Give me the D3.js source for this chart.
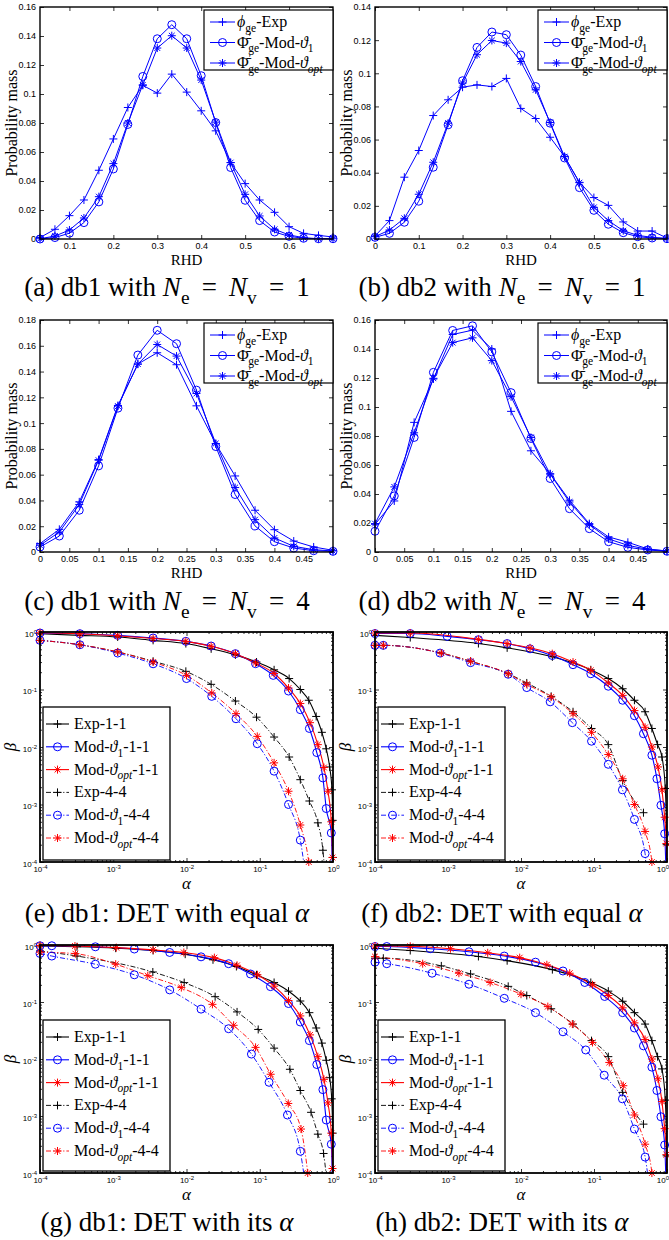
<!DOCTYPE html>
<html>
<head>
<meta charset="utf-8">
<script src="https://cdn.jsdelivr.net/npm/d3@7/dist/d3.min.js"></script>
<style>
  body { margin: 0; background: #fff; }
  svg { display: block; }
</style>
</head>
<body>
<svg id="fig" width="669" height="1240"></svg>
<script>
// ---------- RHD histograms (probability mass) ----------
const rhdA = [0.033, 0.067, 0.1, 0.133, 0.167, 0.2, 0.233, 0.267, 0.3, 0.333, 0.367, 0.4, 0.433, 0.467, 0.5, 0.533, 0.567, 0.6, 0.633, 0.667, 0.7];
const aExp = [0.001, 0.0067, 0.0161, 0.0269, 0.0474, 0.069, 0.0907, 0.106, 0.1006, 0.1137, 0.1013, 0.0884, 0.0746, 0.0527, 0.0382, 0.0269, 0.0184, 0.0085, 0.0039, 0.0025, 0.0014];
const aMod1 = [0, 0.001, 0.004, 0.0113, 0.0256, 0.0483, 0.079, 0.1121, 0.1381, 0.1478, 0.1381, 0.1126, 0.0803, 0.0493, 0.0267, 0.0127, 0.0048, 0.0018, 0.0005, 0.0002, 0.0002];
const aOpt = [0.0002, 0.002, 0.0062, 0.0145, 0.0292, 0.052, 0.08, 0.1063, 0.1317, 0.1402, 0.1317, 0.1096, 0.0806, 0.0527, 0.0308, 0.0159, 0.0067, 0.0028, 0.0009, 0.0002, 0.0002];

const rhdB = [0, 0.033, 0.067, 0.1, 0.133, 0.167, 0.2, 0.233, 0.267, 0.3, 0.333, 0.367, 0.4, 0.433, 0.467, 0.5, 0.533, 0.567, 0.6, 0.633, 0.667];
const bExp = [0.0018, 0.0111, 0.0373, 0.0534, 0.0745, 0.084, 0.0916, 0.093, 0.092, 0.0969, 0.0788, 0.0727, 0.0614, 0.0497, 0.0342, 0.025, 0.0203, 0.0103, 0.0048, 0.0048, 0.0006];
const bMod1 = [0.001, 0.0034, 0.0101, 0.0228, 0.0433, 0.0689, 0.0955, 0.1156, 0.1249, 0.1233, 0.111, 0.092, 0.0699, 0.0489, 0.031, 0.0173, 0.0089, 0.0038, 0.0014, 0.0006, 0.0002];
const bOpt = [0.0014, 0.0054, 0.0125, 0.027, 0.0463, 0.0699, 0.0941, 0.1112, 0.1198, 0.1182, 0.1071, 0.09, 0.0703, 0.0497, 0.034, 0.0191, 0.0111, 0.005, 0.0022, 0.001, 0.0004];

const rhdC = [0, 0.033, 0.067, 0.1, 0.133, 0.167, 0.2, 0.233, 0.267, 0.3, 0.333, 0.367, 0.4, 0.433, 0.467, 0.5];
const cExp = [0.0065, 0.0176, 0.0389, 0.0717, 0.1137, 0.1458, 0.1546, 0.1453, 0.1134, 0.0839, 0.059, 0.0324, 0.0173, 0.0085, 0.0039, 0.0013];
const cMod1 = [0.0039, 0.0124, 0.0324, 0.0668, 0.1116, 0.1528, 0.172, 0.1616, 0.1256, 0.0818, 0.0446, 0.0202, 0.008, 0.0031, 0.001, 0.0005];
const cOpt = [0.0052, 0.0155, 0.0368, 0.0712, 0.1132, 0.1458, 0.161, 0.152, 0.123, 0.0842, 0.05, 0.0251, 0.0109, 0.0044, 0.0018, 0.0008];

const dExp = [0.0191, 0.0352, 0.0894, 0.1193, 0.150, 0.153, 0.140, 0.097, 0.0698, 0.054, 0.0357, 0.0196, 0.0104, 0.0067, 0.0021, 0.0007];
const dMod1 = [0.0143, 0.0387, 0.079, 0.1239, 0.1528, 0.156, 0.138, 0.1099, 0.0783, 0.0507, 0.0299, 0.0161, 0.0071, 0.0032, 0.0014, 0.0005];
const dOpt = [0.0196, 0.0449, 0.0822, 0.1198, 0.1444, 0.1477, 0.132, 0.1071, 0.079, 0.0537, 0.0345, 0.0189, 0.009, 0.0046, 0.0018, 0.0007];

const ticksA = [0.1, 0.2, 0.3, 0.4, 0.5, 0.6];
const ticksB = [0, 0.1, 0.2, 0.3, 0.4, 0.5, 0.6];
const ticksC = [0, 0.05, 0.1, 0.15, 0.2, 0.25, 0.3, 0.35, 0.4, 0.45];

// ---------- DET curves [alpha, beta] ----------
const eExp11 = [[1e-4,0.93],[3.5e-4,0.875],[1.15e-3,0.82],[3.5e-3,0.716],[9.8e-3,0.63],[0.0217,0.51],[0.0465,0.40],[0.0904,0.30],[0.157,0.22],[0.252,0.155],[0.358,0.10],[0.467,0.065],[0.589,0.034],[0.705,0.018],[0.809,0.0093],[0.9,0.0045],[0.968,0.0018],[0.99,5.3e-4],[0.995,1.2e-4],[0.998,3e-5]];
const eMod11 = [[1e-4,0.96],[3.5e-4,0.935],[1.15e-3,0.875],[3.5e-3,0.786],[9.8e-3,0.688],[0.0217,0.57],[0.0465,0.42],[0.0877,0.281],[0.153,0.176],[0.247,0.094],[0.358,0.0446],[0.476,0.021],[0.601,0.008],[0.728,0.0029],[0.809,8.5e-4],[0.948,3.2e-4],[0.99,3e-5]];
const eOpt11 = [[1e-4,0.97],[3.5e-4,0.93],[1.15e-3,0.86],[3.5e-3,0.77],[9.8e-3,0.688],[0.0217,0.565],[0.0465,0.42],[0.0877,0.29],[0.157,0.19],[0.247,0.106],[0.358,0.057],[0.486,0.0265],[0.621,0.011],[0.752,0.0044],[0.853,0.0017],[0.948,5e-4],[0.985,1.2e-4],[0.995,3e-5]];
const eExp44 = [[1e-4,0.716],[3.5e-4,0.60],[1.15e-3,0.45],[3.5e-3,0.31],[9.8e-3,0.207],[0.0217,0.123],[0.0465,0.063],[0.0904,0.033],[0.157,0.0149],[0.252,0.0067],[0.358,0.0027],[0.476,0.00115],[0.621,4.8e-4],[0.728,1.6e-4],[0.81,3e-5]];
const eMod44 = [[1e-4,0.716],[3.5e-4,0.60],[1.15e-3,0.43],[3.5e-3,0.28],[0.01,0.155],[0.0221,0.076],[0.0474,0.031],[0.0925,0.0114],[0.157,0.0038],[0.247,0.001],[0.358,2.4e-4],[0.45,3e-5]];
const eOpt44 = [[1e-4,0.716],[3.5e-4,0.60],[1.15e-3,0.45],[3.5e-3,0.30],[0.01,0.176],[0.0221,0.087],[0.0474,0.038],[0.0925,0.0153],[0.157,0.0053],[0.247,0.0017],[0.358,4.4e-4],[0.467,1e-4],[0.52,3e-5]];

const fExp11 = [[1e-4,0.875],[3.04e-4,0.80],[2.61e-3,0.63],[6.46e-3,0.53],[0.0269,0.37],[0.0904,0.22],[0.157,0.155],[0.247,0.103],[0.358,0.065],[0.501,0.041],[0.621,0.021],[0.743,0.011],[0.853,0.0067],[0.948,0.0019],[0.99,2e-4],[0.998,3e-5]];
const fMod11 = [[1e-4,0.94],[3.04e-4,0.94],[9.75e-4,0.84],[2.61e-3,0.735],[6.46e-3,0.63],[0.0133,0.51],[0.0268,0.39],[0.0516,0.27],[0.0904,0.188],[0.157,0.114],[0.247,0.065],[0.358,0.035],[0.476,0.017],[0.621,0.0072],[0.728,0.0028],[0.826,9.7e-4],[0.929,3.1e-4],[0.985,3e-5]];
const fOpt11 = [[1e-4,0.96],[3.04e-4,0.96],[2.61e-3,0.745],[6.46e-3,0.63],[0.0133,0.53],[0.0268,0.42],[0.0516,0.30],[0.0904,0.215],[0.157,0.13],[0.247,0.079],[0.358,0.043],[0.501,0.022],[0.621,0.01],[0.752,0.0045],[0.853,0.0018],[0.929,6e-4],[0.98,2.1e-4],[0.998,3e-5]];
const fExp44 = [[1e-4,0.586],[1.3e-4,0.586],[8.1e-4,0.43],[2.04e-3,0.31],[6.68e-3,0.188],[0.012,0.13],[0.0259,0.076],[0.0516,0.041],[0.0925,0.021],[0.157,0.011],[0.247,0.0026],[0.476,7.2e-4]];
const fMod44 = [[1e-4,0.586],[1.3e-4,0.586],[7.8e-4,0.43],[2.04e-3,0.293],[6.68e-3,0.184],[0.012,0.108],[0.0251,0.061],[0.0505,0.0265],[0.0925,0.0126],[0.157,0.005],[0.245,0.0018],[0.358,5.5e-4],[0.501,1.4e-4],[0.56,3e-5]];
const fOpt44 = [[1e-4,0.586],[1.3e-4,0.586],[8.1e-4,0.43],[2.04e-3,0.31],[6.68e-3,0.188],[0.012,0.123],[0.0259,0.074],[0.0516,0.038],[0.0925,0.018],[0.157,0.0074],[0.247,0.0028],[0.358,0.001],[0.501,3.4e-4],[0.621,1e-4],[0.68,3e-5]];

const gExp11 = [[1e-4,0.96],[3.2e-4,0.93],[1.08e-3,0.88],[3.5e-3,0.80],[9.6e-3,0.69],[0.023,0.55],[0.048,0.42],[0.0904,0.30],[0.157,0.22],[0.247,0.155],[0.358,0.104],[0.476,0.065],[0.59,0.035],[0.705,0.019],[0.809,0.0095],[0.9,0.0047],[0.96,0.002],[0.99,5e-4],[0.998,3e-5]];
const gMod11 = [[1e-4,0.97],[1.45e-4,0.97],[5.7e-4,0.93],[1.94e-3,0.85],[5.9e-3,0.74],[0.0158,0.62],[0.0376,0.47],[0.0748,0.31],[0.14,0.186],[0.247,0.094],[0.358,0.0446],[0.476,0.021],[0.601,0.008],[0.728,0.0029],[0.809,8.5e-4],[0.948,3.2e-4],[0.99,3e-5]];
const gOpt11 = [[1e-4,0.98],[3e-4,0.96],[1.1e-3,0.9],[3.5e-3,0.82],[9.2e-3,0.74],[0.024,0.6],[0.049,0.44],[0.093,0.30],[0.157,0.19],[0.247,0.106],[0.358,0.057],[0.486,0.0265],[0.621,0.011],[0.752,0.0044],[0.853,0.0017],[0.948,5e-4],[0.985,1.2e-4],[0.995,3e-5]];
const gExp44 = [[1e-4,0.785],[3.2e-4,0.64],[3.47e-3,0.336],[9.3e-3,0.219],[0.0246,0.124],[0.049,0.067],[0.0953,0.033],[0.157,0.0155],[0.258,0.0066],[0.358,0.0028],[0.502,0.00116],[0.621,4.8e-4],[0.743,2.2e-4],[0.88,3e-5]];
const gMod44 = [[1e-4,0.71],[1.45e-4,0.64],[5.7e-4,0.46],[1.94e-3,0.30],[5.9e-3,0.163],[0.0158,0.075],[0.0376,0.034],[0.077,0.0122],[0.134,0.0039],[0.239,0.00104],[0.358,2.4e-4],[0.45,3e-5]];
const gOpt44 = [[1e-4,0.75],[3.04e-4,0.705],[1.08e-3,0.46],[2.96e-3,0.29],[8.5e-3,0.179],[0.0226,0.091],[0.044,0.039],[0.0877,0.016],[0.141,0.0054],[0.245,0.00166],[0.366,5.9e-4],[0.452,1e-4],[0.5,3e-5]];

const hExp11 = [[1e-4,0.875],[3.04e-4,0.80],[2.61e-3,0.63],[6.46e-3,0.53],[0.0269,0.37],[0.0904,0.22],[0.157,0.155],[0.247,0.103],[0.358,0.065],[0.501,0.041],[0.621,0.021],[0.743,0.011],[0.853,0.0067],[0.948,0.0019],[0.99,2e-4],[0.998,3e-5]];
const hMod11 = [[1e-4,0.94],[1.45e-4,0.94],[5.7e-4,0.86],[1.94e-3,0.76],[5.9e-3,0.64],[0.0158,0.50],[0.0376,0.35],[0.0748,0.22],[0.14,0.125],[0.247,0.065],[0.358,0.035],[0.476,0.017],[0.621,0.0072],[0.728,0.0028],[0.826,9.7e-4],[0.929,3.1e-4],[0.985,3e-5]];
const hOpt11 = [[1e-4,0.96],[3.04e-4,0.95],[1.08e-3,0.86],[3.5e-3,0.73],[9.6e-3,0.60],[0.0226,0.45],[0.0465,0.32],[0.0955,0.20],[0.157,0.13],[0.247,0.079],[0.358,0.043],[0.501,0.022],[0.621,0.01],[0.752,0.0045],[0.853,0.0018],[0.929,6e-4],[0.98,2.1e-4],[0.998,3e-5]];
const hExp44 = [[1e-4,0.586],[1.3e-4,0.586],[8.1e-4,0.43],[2.04e-3,0.31],[6.68e-3,0.188],[0.012,0.13],[0.0259,0.076],[0.0516,0.041],[0.0925,0.021],[0.157,0.011],[0.247,0.0026],[0.476,7.2e-4]];
const hMod44 = [[1e-4,0.50],[1.45e-4,0.47],[6.05e-4,0.32],[1.94e-3,0.205],[5.9e-3,0.116],[0.0158,0.065],[0.0376,0.030],[0.077,0.0144],[0.138,0.0052],[0.245,0.002],[0.358,5.9e-4],[0.502,1.9e-4],[0.6,3e-5]];
const hOpt44 = [[1e-4,0.625],[4.5e-4,0.47],[1.41e-3,0.32],[3.78e-3,0.22],[0.01,0.137],[0.0233,0.083],[0.0505,0.041],[0.0955,0.0195],[0.162,0.0087],[0.252,0.0034],[0.358,0.00104],[0.502,3.2e-4],[0.621,1e-4],[0.68,3e-5]];

const logTicks = [1e-4, 1e-3, 1e-2, 1e-1, 1];

// ---------- layout ----------
const serif = '"Liberation Serif","Times New Roman",serif';
const sans = '"Liberation Sans",Arial,sans-serif';
const BLUE = "#0000ff", RED = "#ff0000", BLACK = "#000";
const colX = [[40, 333], [375, 667]];
const rowY = [[7, 239], [320, 552], [632, 862], [945, 1173]];
const colMid = [167, 502];
const pageW = 669;

const svg = d3.select("#fig");

// text made of pieces: italic, subscript, superscript
function rich(text, parts, size) {
  let off = 0;
  parts.forEach(p => {
    if (typeof p === "string") p = { t: p };
    const target = p.sub ? size * 0.3 : p.sup ? -size * 0.38 : 0;
    const ts = text.append("tspan").text(p.t).attr("dy", target - off);
    off = target;
    if (p.sub || p.sup) ts.attr("font-size", size * 0.72);
    if (p.it) ts.attr("font-style", "italic");
    if (p.dx) ts.attr("dx", p.dx);
  });
}

function mark(g, type, cx, cy, color, s) {
  if (type === "o") {
    g.append("circle").attr("cx", cx).attr("cy", cy).attr("r", s)
      .attr("fill", "none").attr("stroke", color).attr("stroke-width", 1);
    return;
  }
  let p = `M${cx - s},${cy}H${cx + s}M${cx},${cy - s}V${cy + s}`;
  if (type === "*") {
    const k = s * 0.72;
    p += `M${cx - k},${cy - k}L${cx + k},${cy + k}M${cx - k},${cy + k}L${cx + k},${cy - k}`;
  }
  g.append("path").attr("d", p).attr("stroke", color).attr("fill", "none").attr("stroke-width", 1);
}

function styleAxis(a, size) {
  a.select(".domain").remove();
  a.selectAll(".tick line").attr("stroke", BLACK).attr("stroke-width", 0.8);
  a.selectAll(".tick text").attr("font-family", sans).attr("font-size", size).attr("fill", BLACK);
}

function caption(ci, y, parts) {
  const t = svg.append("text").attr("x", colMid[ci]).attr("y", y)
    .attr("text-anchor", "middle").attr("font-family", serif).attr("font-size", 27);
  rich(t, parts, 27);
}

// ---------- probability mass panels ----------
const probLegend = [
  [{ t: "\u03D5", it: 1 }, { t: "ge", sub: 1 }, "-Exp"],
  ["\u03A6\u0304", { t: "\u2032", sup: 1 }, { t: "ge", sub: 1, dx: -3 }, "-Mod-", { t: "\u03D1", it: 1 }, { t: "1", sub: 1 }],
  ["\u03A6\u0304", { t: "\u2032", sup: 1 }, { t: "ge", sub: 1, dx: -3 }, "-Mod-", { t: "\u03D1", it: 1 }, { t: "opt", sub: 1, it: 1 }]
];
const probMarks = ["+", "o", "*"];

function probPanel(ci, ri, xs, series, xDom, xTicks, yMax) {
  const [x0, x1] = colX[ci], [y0, y1] = rowY[ri];
  const x = d3.scaleLinear().domain(xDom).range([x0, x1]);
  const y = d3.scaleLinear().domain([0, yMax]).range([y1, y0]);
  const yTicks = d3.range(0, yMax + 1e-9, 0.02);
  const fmt = d => String(+d.toFixed(3));
  const g = svg.append("g");

  styleAxis(g.append("g").attr("transform", `translate(0,${y1})`)
    .call(d3.axisBottom(x).tickValues(xTicks).tickFormat(fmt).tickSize(-4).tickSizeOuter(0).tickPadding(4)), 9);
  styleAxis(g.append("g").attr("transform", `translate(0,${y0})`)
    .call(d3.axisTop(x).tickValues(xTicks).tickFormat("").tickSize(-4).tickSizeOuter(0)), 9);
  styleAxis(g.append("g").attr("transform", `translate(${x0},0)`)
    .call(d3.axisLeft(y).tickValues(yTicks).tickFormat(fmt).tickSize(-4).tickSizeOuter(0).tickPadding(4)), 9);
  styleAxis(g.append("g").attr("transform", `translate(${x1},0)`)
    .call(d3.axisRight(y).tickValues(yTicks).tickFormat("").tickSize(-4).tickSizeOuter(0)), 9);

  const line = d3.line().x((d, i) => x(xs[i])).y(d => y(d));
  series.forEach((vals, k) => {
    g.append("path").attr("d", line(vals)).attr("fill", "none").attr("stroke", BLUE).attr("stroke-width", 1);
    vals.forEach((v, i) => mark(g, probMarks[k], x(xs[i]), y(v), BLUE, 4));
  });

  g.append("rect").attr("x", x0).attr("y", y0).attr("width", x1 - x0).attr("height", y1 - y0)
    .attr("fill", "none").attr("stroke", BLACK).attr("stroke-width", 1.4);

  // legend
  const lx = x1 - 129, ly = y0 + 3;
  g.append("rect").attr("x", lx).attr("y", ly).attr("width", 129).attr("height", 60)
    .attr("fill", "#fff").attr("stroke", BLACK).attr("stroke-width", 1.2);
  probLegend.forEach((parts, k) => {
    const cy = ly + 12 + k * 20.5;
    g.append("line").attr("x1", lx + 6).attr("x2", lx + 31).attr("y1", cy).attr("y2", cy)
      .attr("stroke", BLUE).attr("stroke-width", 1);
    mark(g, probMarks[k], lx + 18.5, cy, BLUE, 4);
    const t = g.append("text").attr("x", lx + 33).attr("y", cy + 5)
      .attr("font-family", serif).attr("font-size", 16);
    rich(t, parts, 16);
  });

  g.append("text").attr("transform", `translate(${x0 - 23},${(y0 + y1) / 2}) rotate(-90)`)
    .attr("text-anchor", "middle").attr("font-family", serif).attr("font-size", 16).text("Probability mass");
  g.append("text").attr("x", (x0 + x1) / 2).attr("y", y1 + 26)
    .attr("text-anchor", "middle").attr("font-family", serif).attr("font-size", 15).text("RHD");
}

probPanel(0, 0, rhdA, [aExp, aMod1, aOpt], [0.033, 0.7], ticksA, 0.16);
probPanel(1, 0, rhdB, [bExp, bMod1, bOpt], [0, 0.667], ticksB, 0.14);
probPanel(0, 1, rhdC, [cExp, cMod1, cOpt], [0, 0.5], ticksC, 0.18);
probPanel(1, 1, rhdC, [dExp, dMod1, dOpt], [0, 0.5], ticksC, 0.16);

// ---------- DET panels ----------
const detStyle = [
  { c: BLACK, m: "+", dash: null, w: 1.1, label: ["Exp-1-1"] },
  { c: BLUE, m: "o", dash: null, w: 1.1, label: ["Mod-", { t: "\u03D1", it: 1 }, { t: "1", sub: 1 }, "-1-1"] },
  { c: RED, m: "*", dash: null, w: 1.1, label: ["Mod-", { t: "\u03D1", it: 1 }, { t: "opt", sub: 1, it: 1 }, "-1-1"] },
  { c: BLACK, m: "+", dash: "5,2,1.2,2", w: 0.9, label: ["Exp-4-4"] },
  { c: BLUE, m: "o", dash: "5,2,1.2,2", w: 0.9, label: ["Mod-", { t: "\u03D1", it: 1 }, { t: "1", sub: 1 }, "-4-4"] },
  { c: RED, m: "*", dash: "5,2,1.2,2", w: 0.9, label: ["Mod-", { t: "\u03D1", it: 1 }, { t: "opt", sub: 1, it: 1 }, "-4-4"] }
];

function detPanel(ci, ri, curves, id) {
  const [x0, x1] = colX[ci], [y0, y1] = rowY[ri];
  const x = d3.scaleLog().domain([1e-4, 1]).range([x0, x1]);
  const y = d3.scaleLog().domain([1e-4, 1]).range([y1, y0]);
  const minors = [];
  for (let e = -4; e < 0; e++) for (let m = 2; m < 10; m++) minors.push(m * Math.pow(10, e));
  const g = svg.append("g");
  const supLabels = a => a.selectAll(".tick text").each(function (d) {
    const t = d3.select(this).text("10");
    t.append("tspan").attr("dy", "-0.45em").attr("font-size", 6).text(Math.round(Math.log10(d)));
  });

  const axB = g.append("g").attr("transform", `translate(0,${y1})`)
    .call(d3.axisBottom(x).tickValues(logTicks).tickSize(-4).tickSizeOuter(0).tickPadding(4));
  styleAxis(axB, 8); supLabels(axB);
  // keep the last label inside the page
  if (x1 + 7 > pageW) {
    axB.selectAll(".tick text").filter(d => d === 1)
      .attr("text-anchor", "end").attr("x", pageW - x1 - 0.5);
  }
  const axL = g.append("g").attr("transform", `translate(${x0},0)`)
    .call(d3.axisLeft(y).tickValues(logTicks).tickSize(-4).tickSizeOuter(0).tickPadding(3));
  styleAxis(axL, 8); supLabels(axL);
  axL.selectAll(".tick text").attr("dy", "0.55em");
  styleAxis(g.append("g").attr("transform", `translate(0,${y0})`)
    .call(d3.axisTop(x).tickValues(logTicks).tickFormat("").tickSize(-4).tickSizeOuter(0)), 8);
  styleAxis(g.append("g").attr("transform", `translate(${x1},0)`)
    .call(d3.axisRight(y).tickValues(logTicks).tickFormat("").tickSize(-4).tickSizeOuter(0)), 8);
  [[d3.axisBottom(x), y1], [d3.axisTop(x), y0]].forEach(([ax, ty]) =>
    styleAxis(g.append("g").attr("transform", `translate(0,${ty})`)
      .call(ax.tickValues(minors).tickFormat("").tickSize(-2).tickSizeOuter(0)), 8));
  [[d3.axisLeft(y), x0], [d3.axisRight(y), x1]].forEach(([ax, tx]) =>
    styleAxis(g.append("g").attr("transform", `translate(${tx},0)`)
      .call(ax.tickValues(minors).tickFormat("").tickSize(-2).tickSizeOuter(0)), 8));

  svg.append("clipPath").attr("id", id).append("rect")
    .attr("x", x0).attr("y", y0).attr("width", x1 - x0).attr("height", y1 - y0);
  const plot = g.append("g").attr("clip-path", `url(#${id})`);
  const line = d3.line().x(d => x(d[0])).y(d => y(d[1])).curve(d3.curveMonotoneX);
  curves.forEach((pts, k) => {
    const st = detStyle[k];
    plot.append("path").attr("d", line(pts)).attr("fill", "none").attr("stroke", st.c)
      .attr("stroke-width", st.w).attr("stroke-dasharray", st.dash);
  });
  curves.forEach((pts, k) => {
    const st = detStyle[k];
    pts.filter(d => d[1] >= 0.99e-4).forEach(d => mark(g, st.m, x(d[0]), y(d[1]), st.c, 4));
  });

  g.append("rect").attr("x", x0).attr("y", y0).attr("width", x1 - x0).attr("height", y1 - y0)
    .attr("fill", "none").attr("stroke", BLACK).attr("stroke-width", 1.8);

  // legend
  const lx = x0 + 3, ly = y0 + 75, lh = y1 - 2 - ly;
  g.append("rect").attr("x", lx).attr("y", ly).attr("width", 127).attr("height", lh)
    .attr("fill", "#fff").attr("stroke", BLACK).attr("stroke-width", 1.3);
  detStyle.forEach((st, k) => {
    const cy = ly + 17 + k * 22.8;
    g.append("line").attr("x1", lx + 3).attr("x2", lx + 26).attr("y1", cy).attr("y2", cy)
      .attr("stroke", st.c).attr("stroke-width", st.w).attr("stroke-dasharray", st.dash);
    mark(g, st.m, lx + 14.5, cy, st.c, 4);
    const t = g.append("text").attr("x", lx + 31).attr("y", cy + 5)
      .attr("font-family", serif).attr("font-size", 16);
    rich(t, st.label, 16);
  });

  g.append("text").attr("transform", `translate(${x0 - 24},${(y0 + y1) / 2}) rotate(-90)`)
    .attr("text-anchor", "middle").attr("font-family", serif).attr("font-style", "italic")
    .attr("font-size", 17).text("\u03B2");
  g.append("text").attr("x", (x0 + x1) / 2).attr("y", y1 + 27)
    .attr("text-anchor", "middle").attr("font-family", serif).attr("font-style", "italic")
    .attr("font-size", 17).text("\u03B1");
}

detPanel(0, 2, [eExp11, eMod11, eOpt11, eExp44, eMod44, eOpt44], "clipE");
detPanel(1, 2, [fExp11, fMod11, fOpt11, fExp44, fMod44, fOpt44], "clipF");
detPanel(0, 3, [gExp11, gMod11, gOpt11, gExp44, gMod44, gOpt44], "clipG");
detPanel(1, 3, [hExp11, hMod11, hOpt11, hExp44, hMod44, hOpt44], "clipH");

// ---------- captions ----------
const N = (s) => [{ t: "N", it: 1 }, { t: s, sub: 1 }];
const EQ = " \u2009=\u2009 ";
caption(0, 296, ["(a) db1 with ", ...N("e"), EQ, ...N("v"), EQ + "1"]);
caption(1, 296, ["(b) db2 with ", ...N("e"), EQ, ...N("v"), EQ + "1"]);
caption(0, 610, ["(c) db1 with ", ...N("e"), EQ, ...N("v"), EQ + "4"]);
caption(1, 610, ["(d) db2 with ", ...N("e"), EQ, ...N("v"), EQ + "4"]);
caption(0, 922, ["(e) db1: DET with equal ", { t: "\u03B1", it: 1 }]);
caption(1, 922, ["(f) db2: DET with equal ", { t: "\u03B1", it: 1 }]);
caption(0, 1231, ["(g) db1: DET with its ", { t: "\u03B1", it: 1 }]);
caption(1, 1231, ["(h) db2: DET with its ", { t: "\u03B1", it: 1 }]);
</script>
</body>
</html>
